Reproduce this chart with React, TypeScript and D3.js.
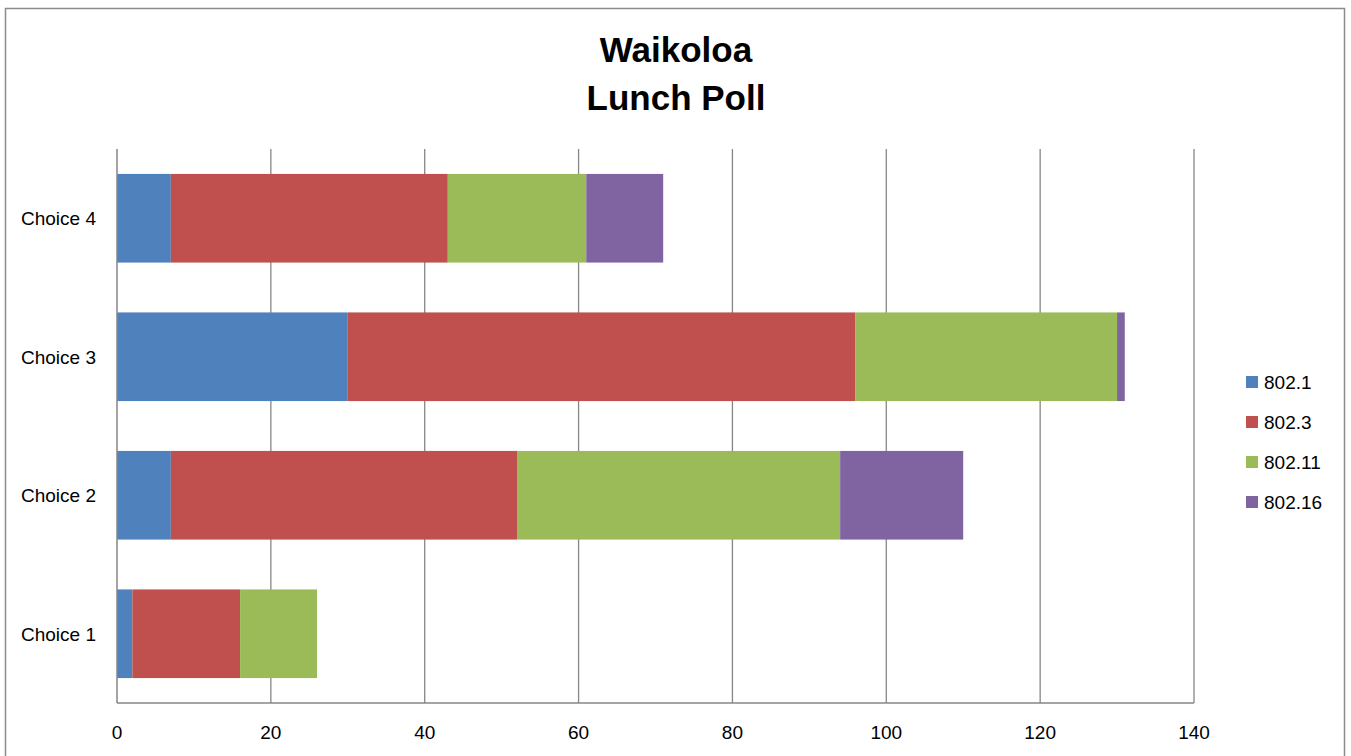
import React from 'react';
import * as d3 from 'd3';

// values
const categories = ['Choice 1', 'Choice 2', 'Choice 3', 'Choice 4'];
const seriesNames = ['802.1', '802.3', '802.11', '802.16'];
const s8021 = [2, 7, 30, 7];
const s8023 = [14, 45, 66, 36];
const s80211 = [10, 42, 34, 18];
const s80216 = [0, 16, 1, 10];
const xTicks = [0, 20, 40, 60, 80, 100, 120, 140];
const colors = ['#4F81BD', '#C0504D', '#9BBB59', '#8064A2'];

const font = '"Liberation Sans", Arial, sans-serif';

const App: React.FC = () => {
  const width = 1351;
  const height = 756;
  const plot = { left: 117, right: 1194, top: 149, bottom: 703 };

  const x = d3.scaleLinear().domain([0, 140]).range([plot.left, plot.right]);
  // top of the chart is the last category
  const y = d3
    .scaleBand<string>()
    .domain([...categories].reverse())
    .range([plot.top, plot.bottom])
    .paddingInner(0.36)
    .paddingOuter(0.18);

  const table = categories.map((c, i) => ({
    category: c,
    '802.1': s8021[i],
    '802.3': s8023[i],
    '802.11': s80211[i],
    '802.16': s80216[i],
  }));
  const stacked = d3.stack<any>().keys(seriesNames)(table);

  return (
    <svg width={width} height={height} style={{ position: 'absolute', left: 0, top: 0 }}>
      <rect x={0} y={0} width={width} height={height} fill="#fff" />
      {/* chart frame */}
      <rect x={5.5} y={8.5} width={1339} height={760} fill="none" stroke="#8c8c8c" strokeWidth={1.5} />

      <text textAnchor="middle" fontFamily={font} fontWeight="bold" fontSize={35} fill="#000">
        <tspan x={676} y={62}>Waikoloa</tspan>
        <tspan x={676} y={110}>Lunch Poll</tspan>
      </text>

      {/* vertical gridlines */}
      {xTicks.slice(1).map((t) => (
        <line key={t} x1={x(t)} x2={x(t)} y1={plot.top} y2={plot.bottom} stroke="#868686" strokeWidth={1.3} />
      ))}

      {stacked.map((layer, si) =>
        layer.map((d, i) => {
          const w = x(d[1]) - x(d[0]);
          if (w <= 0) return null;
          return (
            <rect
              key={`${si}-${i}`}
              x={x(d[0])}
              y={y(categories[i])}
              width={w}
              height={y.bandwidth()}
              fill={colors[si]}
            />
          );
        })
      )}

      {/* axes */}
      <line x1={plot.left} x2={plot.left} y1={plot.top} y2={plot.bottom} stroke="#868686" strokeWidth={1.5} />
      <line x1={plot.left} x2={plot.right} y1={plot.bottom} y2={plot.bottom} stroke="#868686" strokeWidth={1.5} />

      {xTicks.map((t) => (
        <text key={t} x={x(t)} y={739} textAnchor="middle" fontFamily={font} fontSize={19} fill="#000">
          {t}
        </text>
      ))}

      {categories.map((c) => (
        <text
          key={c}
          x={plot.left - 21}
          y={(y(c) ?? 0) + y.bandwidth() / 2 + 7}
          textAnchor="end"
          fontFamily={font}
          fontSize={19}
          fill="#000"
        >
          {c}
        </text>
      ))}

      {/* legend */}
      {seriesNames.map((s, i) => (
        <g key={s} transform={`translate(1246, ${382 + i * 40})`}>
          <rect x={0} y={-6} width={12} height={12} fill={colors[i]} />
          <text x={18} y={7} fontFamily={font} fontSize={19} fill="#000">
            {s}
          </text>
        </g>
      ))}
    </svg>
  );
};

export default App;
